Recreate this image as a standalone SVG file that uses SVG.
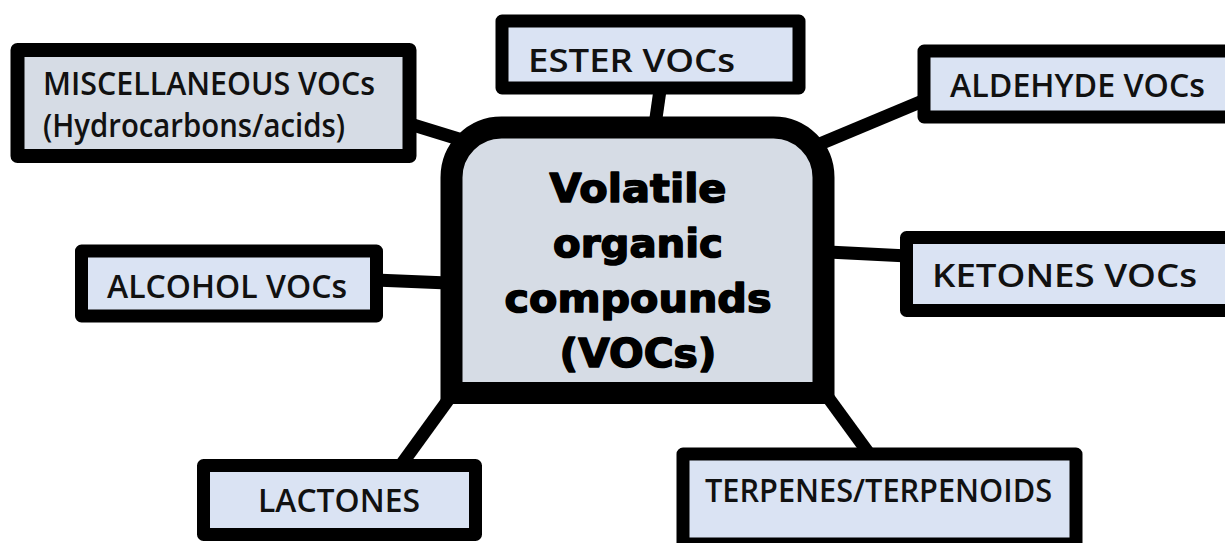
<svg xmlns="http://www.w3.org/2000/svg" width="1225" height="543" viewBox="0 0 1225 543">
<style>
.box{stroke:#000;stroke-width:13;stroke-linejoin:round;fill:#dae3f3}
.gray{fill:#d6dce5}
.lbl{font-family:"Open Sans","Noto Sans","Liberation Sans",sans-serif;font-size:32px;font-weight:600;fill:#111}
.ctr{font-family:"DejaVu Sans","Liberation Sans",sans-serif;font-size:39px;font-weight:bold;fill:#000;stroke:#000;stroke-width:1.5;stroke-linejoin:round;text-anchor:middle}
.conn line{stroke:#000;stroke-width:13;stroke-linecap:butt}
</style>
<rect width="1225" height="543" fill="#fff"/>
<g id="connectors" class="conn">
<line x1="410" y1="124" x2="462" y2="140"/>
<line x1="660" y1="90" x2="655" y2="125"/>
<line x1="925" y1="100" x2="815" y2="146"/>
<line x1="375" y1="280" x2="448" y2="283"/>
<line x1="828" y1="252" x2="908" y2="256"/>
<line x1="451" y1="396" x2="401" y2="465"/>
<line x1="827" y1="396" x2="870" y2="455"/>
</g>
<g id="center">
<path d="M451.5 393 L451.5 177.5 A50 50 0 0 1 501.5 127.5 L773.5 127.5 A50 50 0 0 1 823.5 177.5 L823.5 393 Z" fill="#d6dce5" stroke="#000" stroke-width="22" stroke-linejoin="miter"/>
<text class="ctr" x="638" y="202" textLength="177" lengthAdjust="spacingAndGlyphs">Volatile</text>
<text class="ctr" x="638" y="257" textLength="170" lengthAdjust="spacingAndGlyphs">organic</text>
<text class="ctr" x="638" y="312" textLength="267" lengthAdjust="spacingAndGlyphs">compounds</text>
<text class="ctr" x="638" y="367" textLength="157" lengthAdjust="spacingAndGlyphs">(VOCs)</text>
</g>
<g id="misc">
<rect class="box gray" x="17.5" y="50" width="392" height="106" style="stroke-width:14"/>
<text class="lbl" x="43" y="95" textLength="332" lengthAdjust="spacingAndGlyphs">MISCELLANEOUS VOCs</text>
<text class="lbl" x="43" y="137" textLength="302" lengthAdjust="spacingAndGlyphs">(Hydrocarbons/acids)</text>
</g>
<g id="ester">
<rect class="box" x="502" y="21" width="297" height="67"/>
<text class="lbl" x="528" y="72" textLength="207" lengthAdjust="spacingAndGlyphs">ESTER VOCs</text>
</g>
<g id="aldehyde">
<rect class="box" x="924" y="51" width="320" height="66"/>
<text class="lbl" x="950" y="97" textLength="255" lengthAdjust="spacingAndGlyphs">ALDEHYDE VOCs</text>
</g>
<g id="alcohol">
<rect class="box" x="81.5" y="251" width="295" height="65"/>
<text class="lbl" x="107" y="298" textLength="240" lengthAdjust="spacingAndGlyphs">ALCOHOL VOCs</text>
</g>
<g id="ketones">
<rect class="box" x="906.5" y="237.5" width="340" height="73"/>
<text class="lbl" x="932" y="287" textLength="265" lengthAdjust="spacingAndGlyphs">KETONES VOCs</text>
</g>
<g id="lactones">
<rect class="box" x="203.5" y="465.5" width="272" height="69"/>
<text class="lbl" x="258" y="512" textLength="162" lengthAdjust="spacingAndGlyphs">LACTONES</text>
</g>
<g id="terpenes">
<rect class="box" x="683" y="454" width="393" height="90"/>
<text class="lbl" x="705" y="502" textLength="347" lengthAdjust="spacingAndGlyphs">TERPENES/TERPENOIDS</text>
</g>
</svg>
